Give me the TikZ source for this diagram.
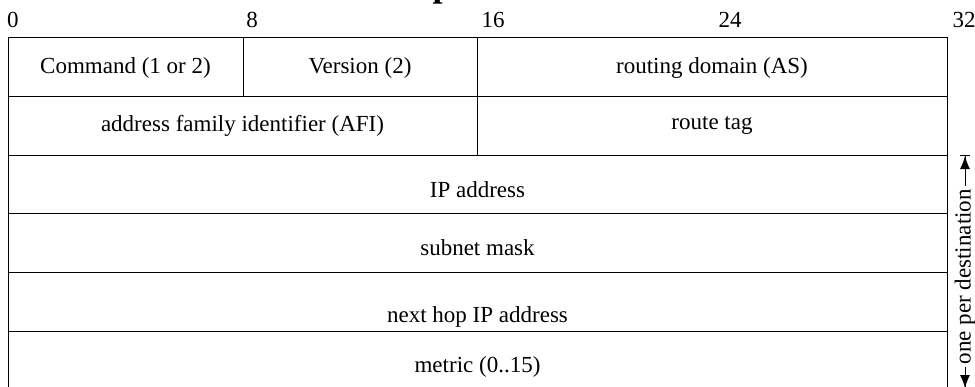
\documentclass[tikz,border=0pt]{standalone}
\usepackage{fontspec}
\setmainfont{Liberation Serif}
\usetikzlibrary{arrows.meta}
\begin{document}
\begin{tikzpicture}[x=0.5pt,y=-0.5pt,line width=0.5pt,
    field/.style={anchor=base,inner sep=0pt,font=\fontsize{11.5}{13}\selectfont},
    bitnum/.style={inner sep=0pt,font=\fontsize{11.5}{13}\selectfont},
    span/.style={{Bar[width=5pt]Latex[length=6.5pt,width=5pt]}-{Latex[length=6.5pt,width=5pt]Bar[width=5pt]}}]
  \useasboundingbox (0,0) rectangle (975,386);
  % title, cut off by the page edge
  \node[anchor=base west,inner sep=0pt,font=\fontsize{18}{20}\selectfont\bfseries] (title) at (432,-3.4) {p};
  % bit positions
  \draw
    (13,20) node[bitnum] (b0){0}
    (252,20) node[bitnum] (b8){8}
    (493,20) node[bitnum] (b16){16}
    (730,20) node[bitnum] (b24){24}
    (964,20) node[bitnum] (b32){32};
  % frame and borders
  \draw (8,400) -- (8,37) -- (947,37) -- (947,400);
  \foreach \y in {96,155,213,272,331}
    \draw (8,\y) -- (947,\y);
  \draw (243,37) -- (243,96);
  \draw (477,37) -- (477,155);
  % fields
  \draw
    (125.5,73) node[field] (cmd){Command (1 or 2)}
    (360,73) node[field] (ver){Version (2)}
    (712,73) node[field] (dom){routing domain (AS)}
    (242.5,131) node[field] (afi){address family identifier (AFI)}
    (712,129) node[field] (tag){route tag}
    (477.5,197) node[field] (ip){IP address}
    (477.5,255) node[field] (mask){subnet mask}
    (477.5,322) node[field] (hop){next hop IP address}
    (477.5,372) node[field] (metric){metric (0..15)};
  % repeated part
  \coordinate (rtop) at (965,155);
  \coordinate (rbot) at (965,389);
  \draw[span] (rtop) -- (rbot)
    node[pos=0.52,rotate=90,fill=white,inner sep=1.5pt,font=\fontsize{11.5}{13}\selectfont] (per){one per destination};
\end{tikzpicture}
\end{document}
